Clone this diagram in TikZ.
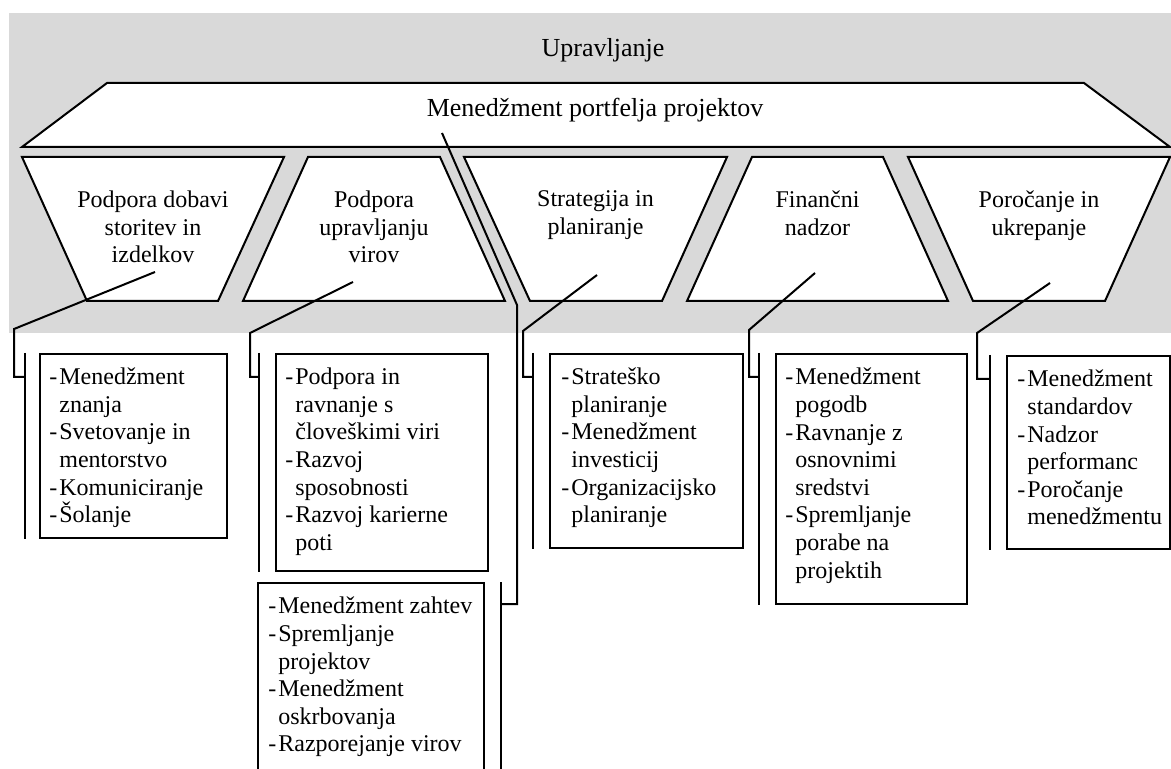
\documentclass[tikz,border=0pt]{standalone}
\usepackage{fontspec}
\setmainfont{Liberation Serif}
\usetikzlibrary{positioning}
\definecolor{bggray}{RGB}{217,217,217}
\newcommand{\ditem}{\makebox[5pt][l]{-}}
\newcommand{\dcont}{\hspace*{5pt}}

\begin{document}
\begin{tikzpicture}[x=0.5pt,y=-0.5pt,
  shapeline/.style={draw,line width=1pt,fill=white},
  link/.style={draw,line width=1pt},
  toplabel/.style={font=\fontsize{13}{15}\selectfont,anchor=base,inner sep=0pt},
  panellabel/.style={font=\fontsize{12}{13.8}\selectfont,align=center,anchor=north,inner sep=0pt,execute at begin node=\strut},
  itembox/.style={draw,line width=1pt,fill=white,anchor=north west,inner sep=0pt},
  itemtext/.style={font=\fontsize{12}{13.8}\selectfont,align=left,inner sep=0pt,execute at begin node=\strut}]
\useasboundingbox (0,0) rectangle (1171,769);
\clip (0,0) rectangle (1171,769);

% grey area and top band
\fill[bggray] (9,13) rectangle (1175,333);
\draw[shapeline] (107,83) -- (1084,83) -- (1170,147) -- (22,147) -- cycle;
\node[toplabel] (upr) at (603,57) {Upravljanje};
\node[toplabel] (mpp) at (595,117) {Menedžment portfelja projektov};

% the five panels
\draw[shapeline] (22,157) -- (284,157) -- (218,301) -- (87,301) -- cycle;
\draw[shapeline] (308,157) -- (440,157) -- (505,301) -- (243,301) -- cycle;
\draw[shapeline] (464,157) -- (727,157) -- (662,301) -- (530,301) -- cycle;
\draw[shapeline] (752,157) -- (883,157) -- (948,301) -- (687,301) -- cycle;
\draw[shapeline] (908,157) -- (1170,157) -- (1105,301) -- (973,301) -- cycle;
\node[panellabel] (t1) at (153,190.7) {Podpora dobavi\\storitev in\\izdelkov};
\node[panellabel] (t2) at (374,190.7) {Podpora\\upravljanju\\virov};
\node[panellabel] (t3) at (595.5,190.7) {Strategija in\\planiranje};
\node[panellabel] (t4) at (817.5,190.7) {Finančni\\nadzor};
\node[panellabel] (t5) at (1039,190.7) {Poročanje in\\ukrepanje};

% boxes
\node[itembox,minimum width=93.5pt,minimum height=92pt] (b1) at (39,353) {};
\node[itembox,minimum width=106pt,minimum height=108.5pt] (b2) at (275,353) {};
\node[itembox,minimum width=113pt,minimum height=119pt] (b3) at (257,582) {};
\node[itembox,minimum width=96.5pt,minimum height=97pt] (b4) at (549,353) {};
\node[itembox,minimum width=95.5pt,minimum height=125pt] (b5) at (775,353) {};
\node[itembox,minimum width=81.5pt,minimum height=96.5pt] (b6) at (1006,355) {};

\node[itemtext,below right=7.35pt and 5pt of b1.north west] (b1t)
  {\ditem Menedžment\\ \dcont znanja\\ \ditem Svetovanje in\\ \dcont mentorstvo\\ \ditem Komuniciranje\\ \ditem Šolanje};
\node[itemtext,below right=7.35pt and 5pt of b2.north west] (b2t)
  {\ditem Podpora in\\ \dcont ravnanje s\\ \dcont človeškimi viri\\ \ditem Razvoj\\ \dcont sposobnosti\\ \ditem Razvoj karierne\\ \dcont poti};
\node[itemtext,below right=7.35pt and 5.5pt of b3.north west] (b3t)
  {\ditem Menedžment zahtev\\ \ditem Spremljanje\\ \dcont projektov\\ \ditem Menedžment\\ \dcont oskrbovanja\\ \ditem Razporejanje virov};
\node[itemtext,below right=7.35pt and 6pt of b4.north west] (b4t)
  {\ditem Strateško\\ \dcont planiranje\\ \ditem Menedžment\\ \dcont investicij\\ \ditem Organizacijsko\\ \dcont planiranje};
\node[itemtext,below right=7.35pt and 5pt of b5.north west] (b5t)
  {\ditem Menedžment\\ \dcont pogodb\\ \ditem Ravnanje z\\ \dcont osnovnimi\\ \dcont sredstvi\\ \ditem Spremljanje\\ \dcont porabe na\\ \dcont projektih};
\node[itemtext,below right=7.35pt and 5.5pt of b6.north west] (b6t)
  {\ditem Menedžment\\ \dcont standardov\\ \ditem Nadzor\\ \dcont performanc\\ \ditem Poročanje\\ \dcont menedžmentu};

% brackets beside the boxes
\coordinate (k1) at ([xshift=-7pt]b1.north west);
\coordinate (k2) at ([xshift=-8pt]b2.north west);
\coordinate (k3) at ([xshift=8pt]b3.north east);
\coordinate (k4) at ([xshift=-8pt]b4.north west);
\coordinate (k5) at ([xshift=-8pt]b5.north west);
\coordinate (k6) at ([xshift=-8pt]b6.north west);
\draw[link] (k1) -- (k1 |- b1.south);
\draw[link] (k2) -- (k2 |- b2.south);
\draw[link] (k3) -- (k3 |- b3.south);
\draw[link] (k4) -- (k4 |- b4.south);
\draw[link] (k5) -- (k5 |- b5.south);
\draw[link] (k6) -- (k6 |- b6.south);

% connectors
\coordinate (s0) at (442,133);
\coordinate (s1) at (155,272);
\coordinate (s2) at (353,282);
\coordinate (s3) at (597,275);
\coordinate (s4) at (815,273);
\coordinate (s5) at (1050,283);
\draw[link] (s1) -- (14,329) -- (14,377) -- (k1 |- 14,377);
\draw[link] (s2) -- (250,333) -- (250,377) -- (k2 |- 250,377);
\draw[link] (s0) -- (517,305) -- (517,604) -- (k3 |- 517,604);
\draw[link] (s3) -- (523,331) -- (523,377) -- (k4 |- 523,377);
\draw[link] (s4) -- (749,330) -- (749,377) -- (k5 |- 749,377);
\draw[link] (s5) -- (977,333) -- (977,379) -- (k6 |- 977,379);
\end{tikzpicture}
\end{document}
